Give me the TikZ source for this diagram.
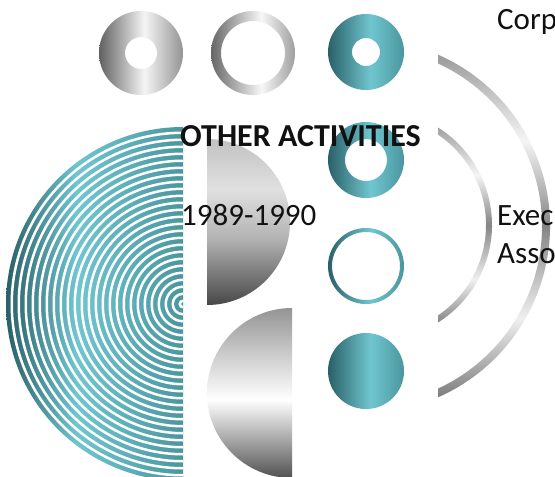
\documentclass[tikz,border=0pt]{standalone}
\usepackage{fontspec}
\setmainfont{Carlito}
\usetikzlibrary{positioning}

\definecolor{tealdark}{RGB}{42,96,104}
\definecolor{teallight}{RGB}{112,198,207}
\definecolor{tealmid}{RGB}{74,150,158}
\definecolor{textcol}{RGB}{17,17,17}

\pgfdeclarehorizontalshading{tealshade}{100bp}{color(0bp)=(tealdark); color(25bp)=(tealdark); color(53bp)=(teallight); color(75bp)=(tealmid); color(100bp)=(tealmid)}
\pgfdeclarehorizontalshading{stripeshade}{100bp}{color(0bp)=(tealdark); color(25bp)=(tealdark); color(45bp)=(teallight); color(75bp)=(tealmid); color(100bp)=(tealmid)}
\pgfdeclarehorizontalshading{greyring}{100bp}{color(0bp)=(black!62); color(25bp)=(black!62); color(52bp)=(black!4); color(75bp)=(black!42); color(100bp)=(black!42)}
\pgfdeclarehorizontalshading{thinring}{100bp}{color(0bp)=(black!60); color(25bp)=(black!60); color(55bp)=(black!3); color(75bp)=(black!38); color(100bp)=(black!38)}
\pgfdeclareverticalshading{upperD}{100bp}{color(0bp)=(black!72); color(25bp)=(black!72); color(45bp)=(black!30); color(60bp)=(black!12); color(75bp)=(black!24); color(100bp)=(black!24)}
\pgfdeclareverticalshading{lowerD}{100bp}{color(0bp)=(black!68); color(25bp)=(black!68); color(48bp)=(white); color(60bp)=(black!18); color(75bp)=(black!42); color(100bp)=(black!42)}
\pgfdeclareverticalshading{arcshade}{100bp}{color(0bp)=(black!55); color(25bp)=(black!55); color(37bp)=(black!6); color(50bp)=(black!48); color(62bp)=(black!4); color(75bp)=(black!42); color(100bp)=(black!42)}

\begin{document}
\begin{tikzpicture}[x=1pt,y=-1pt,
  txt/.style={anchor=base west,inner sep=0pt,text=textcol,font=\fontsize{31}{38}\selectfont}]
\useasboundingbox (0,0) rectangle (555,477);
\clip (0,0) rectangle (555,477);
\fill[white] (0,0) rectangle (555,477);

% top row
\shade[shading=greyring,even odd rule] (141,53) circle[radius=42] (141,53) circle[radius=16];
\shade[shading=thinring,even odd rule] (253,53) circle[radius=42] (253,53) circle[radius=32];

% teal column
\shade[shading=tealshade,even odd rule] (366,52) circle[radius=38] (366,52) circle[radius=14];
\shade[shading=tealshade,even odd rule] (366,160) circle[radius=38] (366,160) circle[radius=21];
\shade[shading=tealshade,even odd rule] (366,266) circle[radius=38] (366,266) circle[radius=34];
\shade[shading=tealshade] (366,371) circle[radius=38];

% striped half disc
\begin{scope}
\clip ([shift={(183,304)}]90:177) arc[start angle=90,end angle=270,radius=177] -- cycle;
\shade[shading=stripeshade] (6,127) rectangle (183,481);
\foreach \k [evaluate=\k as \r using 171.25-7*\k] in {0,...,24}
  \draw[white,line width=2.5pt] ([shift={(183,304)}]90:\r) arc[start angle=90,end angle=270,radius=\r];
\end{scope}

% grey half discs
\shade[shading=upperD] ([shift={(207,222)}]270:83) arc[start angle=270,end angle=450,radius=83] -- cycle;
\shade[shading=lowerD] ([shift={(292,393)}]90:85) arc[start angle=90,end angle=270,radius=85] -- cycle;

% arcs
\begin{scope}
\clip (438,0) rectangle (555,477);
\shade[shading=arcshade] ([shift={(363,226)}]-72:187) arc[start angle=-72,end angle=72,radius=187]
  -- ([shift={(363,226)}]72:179) arc[start angle=72,end angle=-72,radius=179] -- cycle;
\shade[shading=arcshade] ([shift={(377,225)}]-66:115) arc[start angle=-66,end angle=66,radius=115]
  -- ([shift={(377,225)}]66:109) arc[start angle=66,end angle=-66,radius=109] -- cycle;
\end{scope}

% labels
\node[txt,font=\fontsize{32}{38}\selectfont\bfseries] at (180,146) (title) {OTHER ACTIVITIES};
\node[txt] at (181,225) (years) {1989-1990};
\node[txt] at (497,29) (corp) {Corp};
\node[txt] at (497,225) (exec) {Exec};
\node[txt] at (497,263) (asso) {Asso};
\end{tikzpicture}
\end{document}
